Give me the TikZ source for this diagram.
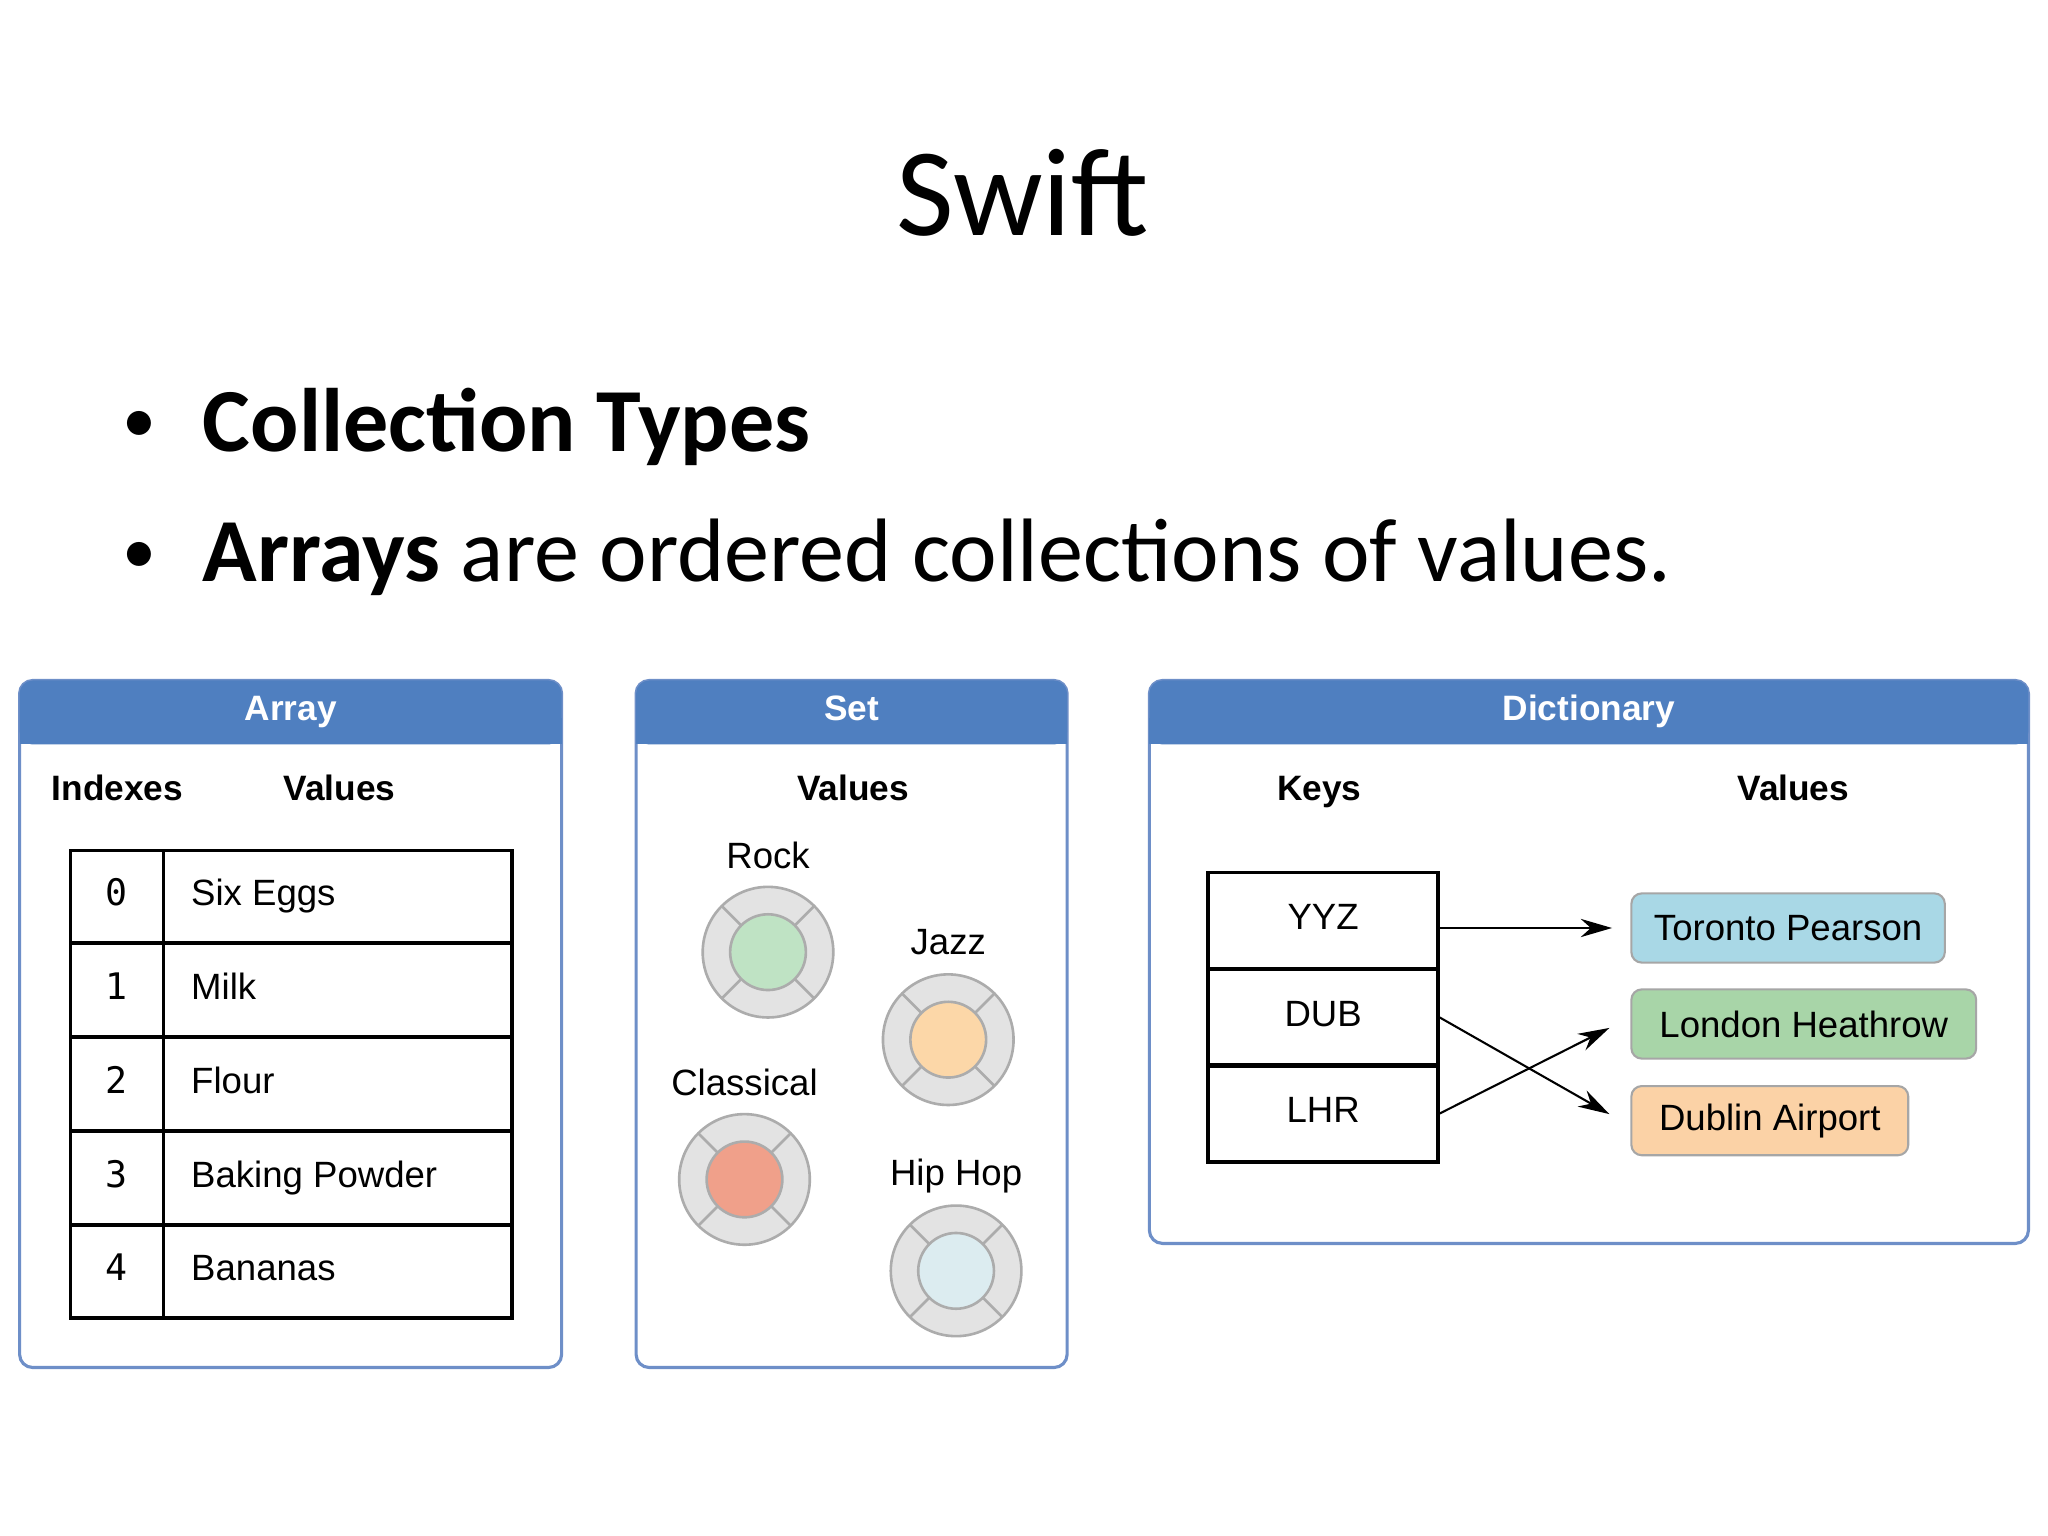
\documentclass[tikz,border=0pt]{standalone}
\usepackage{fontspec}
\setmainfont{Carlito}
\newfontfamily\hv{Liberation Sans}
\newfontfamily\mono{DejaVu Sans Mono}
\usetikzlibrary{arrows.meta,calc}
\definecolor{hdr}{HTML}{4F7FC0}
\definecolor{pbord}{HTML}{6E8FC8}
\begin{document}
\begin{tikzpicture}[x=0.5pt,y=-0.5pt,
  panel/.style={draw=pbord,line width=1.2pt,fill=white,rounded corners=5pt},
  htxt/.style={font=\hv\bfseries\fontsize{13.5}{15}\selectfont,text=white,text height=10pt,text depth=3pt},
  ctxt/.style={font=\hv\bfseries\fontsize{13.5}{15}\selectfont,text height=10pt,text depth=3pt},
  ltxt/.style={font=\hv\fontsize{14}{16}\selectfont,text height=10pt,text depth=3pt},
  cell/.style={draw,line width=1.3pt},
  vbox/.style={draw=gray!70,line width=0.8pt,rounded corners=4pt,minimum height=26.5pt,font=\hv\fontsize{14}{16}\selectfont},
  arr/.style={line width=0.8pt,-{Stealth[length=12pt,width=7pt]}}]
\useasboundingbox (0,0) rectangle (1568,1176);
\node (title) at (783,148) {\fontsize{48}{52}\selectfont Swift};
\node (b1) at (107,327) {\fontsize{26}{34}\selectfont\textbullet};
\node[anchor=west,inner sep=0] (t1) at (155,327) {\fontsize{34.5}{38}\selectfont\bfseries Collection Types};
\node (b2) at (107,427) {\fontsize{26}{34}\selectfont\textbullet};
\node[anchor=west,inner sep=0] (t2) at (155,427) {\fontsize{34.5}{38}\selectfont\textbf{Arrays} are ordered collections of values.};
% panels
\foreach \a/\b/\c/\nm in {15/430/1047/Array,487/817/1047/Set,880/1553/952/Dictionary}{
  \draw[panel] (\a,521) rectangle (\b,\c);
  \fill[hdr,rounded corners=5pt] (\a,521) rectangle (\b,570);
  \fill[hdr] (\a,550) rectangle (\b,570);
  \node[htxt] at ({(\a+\b)/2},545) {\nm};
}
% Array
\node[ctxt] (ai) at (90,606) {Indexes};
\node[ctxt] (av) at (260,606) {Values};
\foreach \i/\v/\ya/\yb in {0/Six Eggs/651/722,1/Milk/722/794,2/Flour/794/866,3/Baking Powder/866/938,4/Bananas/938/1009}{
  \draw[cell] (54,\ya) rectangle (125,\yb);
  \draw[cell] (125,\ya) rectangle (392,\yb);
  \node[font=\mono\fontsize{14}{16}\selectfont,text height=10pt,text depth=3pt] (ix\i) at (89.5,{(\ya+\yb)/2}) {\i};
  \node[ltxt,anchor=west,inner sep=0] (v\i) at (146,{(\ya+\yb)/2}) {\v};
}
% Set
\node[ctxt] (sv) at (653,606) {Values};
\foreach \nm/\lx/\ly/\cx/\cy/\col in {Rock/588/658/588/729/BFE3C4,Jazz/726/724/726/796/FCD7A8,Classical/570/832/570/903/F0A08A,Hip Hop/732/901/732/973/DCECF0}{
  \node[ltxt] at (\lx,\ly) {\nm};
  \fill[gray!22] (\cx,\cy) circle (25pt);
  \draw[gray!65,line width=1pt] (\cx,\cy) circle (25pt);
  \foreach \ang in {45,135,225,315}
    \draw[gray!65,line width=1pt] ($(\cx,\cy)+(\ang:14.5pt)$) -- ($(\cx,\cy)+(\ang:25pt)$);
  \definecolor{tmp}{HTML}{\col}
  \fill[tmp] (\cx,\cy) circle (14.5pt);
  \draw[gray!65,line width=1pt] (\cx,\cy) circle (14.5pt);
}
% Dictionary
\node[ctxt] (dk) at (1010,606) {Keys};
\node[ctxt] (dv) at (1373,606) {Values};
\foreach \k/\ya/\yb in {YYZ/668/742,DUB/742/816,LHR/816/889}{
  \node[cell,minimum width=88pt,minimum height=37pt,ltxt] (\k) at (1013,{(\ya+\yb)/2}) {\k};
}
\node[vbox,fill={rgb,255:red,169;green,216;blue,230},minimum width=120pt] (tor) at (1369,710.5) {Toronto Pearson};
\node[vbox,fill={rgb,255:red,168;green,213;blue,168},minimum width=132pt] (lon) at (1381,784) {London Heathrow};
\node[vbox,fill={rgb,255:red,251;green,210;blue,166},minimum width=106pt] (dub) at (1355,858) {Dublin Airport};
\draw[arr] (YYZ.east |- tor.west) -- ($(tor.west)+(-14,0)$);
\draw[arr] (DUB.east) -- ($(dub.west)+(-16,-5)$);
\draw[arr] (LHR.east) -- ($(lon.west)+(-16,3)$);
\end{tikzpicture}
\end{document}
